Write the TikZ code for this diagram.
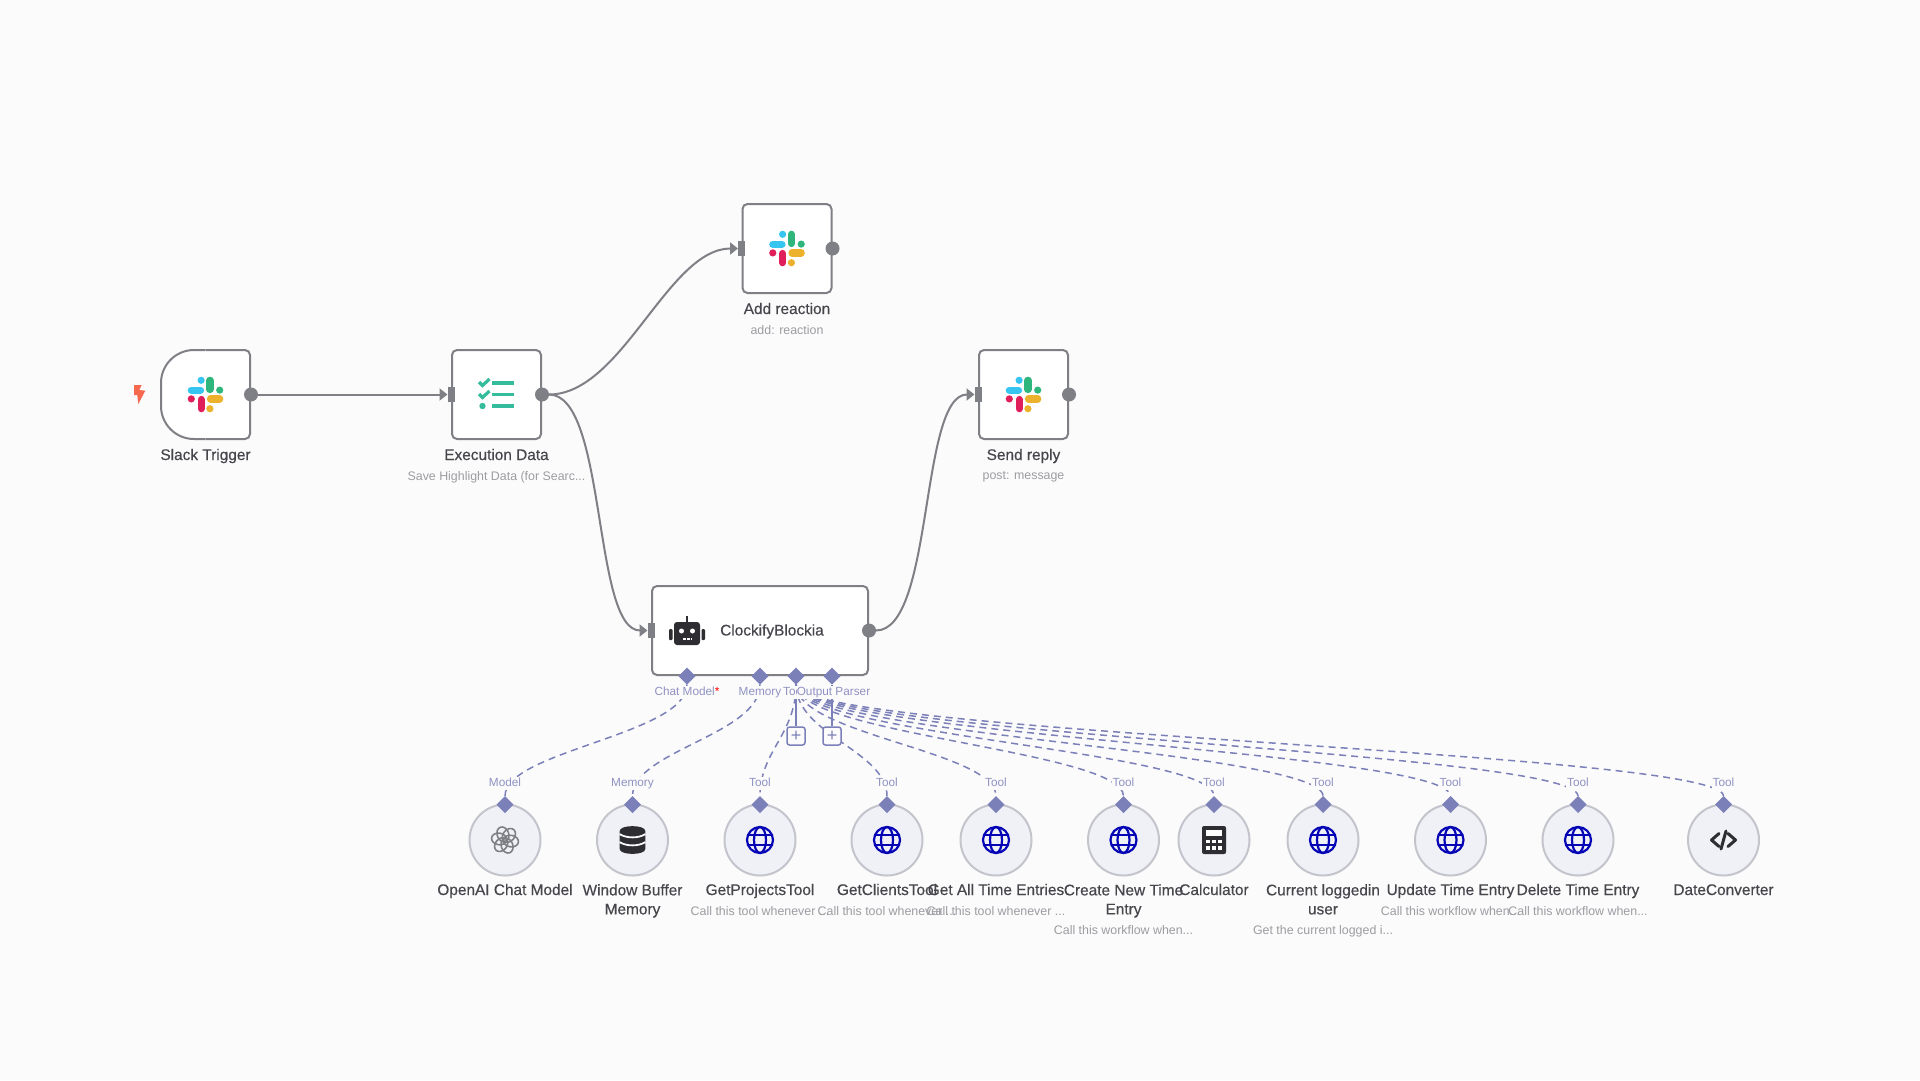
\documentclass[tikz,border=0pt]{standalone}
\usepackage{fontspec}
\usepackage{xcolor}
\setmainfont{Liberation Sans}
\newfontfamily\titlefont[FakeBold=0.35]{Liberation Sans}
\usetikzlibrary{shapes.geometric,arrows.meta,positioning,calc}
\definecolor{pagebg}{HTML}{FBFBFB}
\definecolor{edgegray}{HTML}{7F7F86}
\definecolor{titlegray}{HTML}{46464C}
\definecolor{subgray}{HTML}{9C9CA2}
\definecolor{portpurple}{HTML}{7C80B8}
\definecolor{labelpurple}{HTML}{8F92C2}
\definecolor{toolfill}{HTML}{F0F1F7}
\definecolor{toolline}{HTML}{C4C4CC}
\definecolor{globeblue}{HTML}{0505B5}
\definecolor{iconblack}{HTML}{2D2D32}
\definecolor{checkteal}{HTML}{34BC9C}
\tikzset{
  mainbox/.style={draw=edgegray,line width=2pt,fill=white,rounded corners=5pt,minimum width=89pt,minimum height=89pt,outer sep=0pt},
  outdot/.style={circle,fill=edgegray,minimum size=14pt,inner sep=0pt,outer sep=0pt},
  inport/.style={rectangle,fill=edgegray,minimum width=7pt,minimum height=15pt,inner sep=0pt,outer sep=0pt},
  flow/.style={draw=edgegray,line width=2pt},
  flowarrow/.style={flow,-{Triangle[length=8pt,width=12pt]}},
  toolcircle/.style={circle,draw=toolline,line width=2pt,fill=toolfill,minimum size=71pt,inner sep=0pt,outer sep=0pt},
  portdiamond/.style={diamond,fill=portpurple,minimum width=17pt,minimum height=17pt,inner sep=0pt,outer sep=0pt},
  dashline/.style={draw=portpurple,line width=1.5pt,dash pattern=on 7pt off 5pt},
  stubline/.style={draw=portpurple,line width=1.5pt},
  plusbox/.style={draw=portpurple,line width=1.5pt,fill=pagebg,rounded corners=2.5pt,minimum size=18pt,inner sep=0pt,text=portpurple,font=\fontsize{18}{18}\selectfont},
  portlabel/.style={fill=pagebg,inner sep=1pt,text height=8.5pt,text depth=2.5pt,text=labelpurple,font=\fontsize{11.8}{13}\selectfont},
  nodetitle/.style={inner sep=0pt,align=center,text=titlegray,font=\titlefont\fontsize{15.4}{19}\selectfont,execute at begin node=\strut},
  nodesub/.style={inner sep=0pt,text=subgray,font=\fontsize{12.4}{16}\selectfont}
}
\newcommand{\slackicon}[1]{
  \begin{scope}[shift={(#1)},line cap=round,line width=7.2pt]
    \draw[color={rgb,255:red,54;green,197;blue,240}] (-14.2,-4.4) -- (-5,-4.4);
    \fill[color={rgb,255:red,54;green,197;blue,240}] (-4.4,-14.2) circle (3.6pt);
    \draw[color={rgb,255:red,46;green,182;blue,125}] (4.4,-14.2) -- (4.4,-5);
    \fill[color={rgb,255:red,46;green,182;blue,125}] (14.2,-4.4) circle (3.6pt);
    \draw[color={rgb,255:red,236;green,178;blue,46}] (14.2,4.4) -- (5,4.4);
    \fill[color={rgb,255:red,236;green,178;blue,46}] (4.4,14.2) circle (3.6pt);
    \draw[color={rgb,255:red,224;green,30;blue,90}] (-4.4,14.2) -- (-4.4,5);
    \fill[color={rgb,255:red,224;green,30;blue,90}] (-14.2,4.4) circle (3.6pt);
  \end{scope}
}
\newcommand{\globeicon}[1]{
  \begin{scope}[shift={(#1)},draw=globeblue,line width=2.2pt]
    \draw (0,0) circle (13pt);
    \draw (0,0) ellipse (6pt and 13pt);
    \draw (-12,-5) -- (12,-5);
    \draw (-12,5) -- (12,5);
  \end{scope}
}
\begin{document}
\begin{tikzpicture}[x=1pt,y=-1pt]
  \useasboundingbox (0,0) rectangle (1920,1080);
  \fill[pagebg] (0,0) rectangle (1920,1080);

  % main row
  \node[mainbox,draw=none,fill=none] (trigger) at (205.5,394.5) {};
  \filldraw[draw=edgegray,line width=2pt,fill=white,rounded corners=33pt] (trigger.north) -- (trigger.north west) -- (trigger.south west) -- (trigger.south);
  \filldraw[draw=edgegray,line width=2pt,fill=white,rounded corners=5pt] (trigger.south) -- (trigger.south east) -- (trigger.north east) -- (trigger.north);
  \node[mainbox] (execdata) at (496.5,394.5) {};
  \node[mainbox] (reaction) at (787,248.5) {};
  \node[mainbox] (reply) at (1023.5,394.5) {};
  \node[mainbox,minimum width=216pt] (agent) at (760,630.5) {};
  \fill[color={rgb,255:red,247;green,105;blue,79}] (134,385) -- (141.7,385) -- (139.3,390) -- (145.3,390.7) -- (138.3,404) -- (137.3,395) -- (134,395) -- cycle;

  \node[outdot] (trigger out) at ([xshift=1pt]trigger.east) {};
  \node[outdot] (execdata out) at ([xshift=1pt]execdata.east) {};
  \node[outdot] (reaction out) at ([xshift=1pt]reaction.east) {};
  \node[outdot] (reply out) at ([xshift=1pt]reply.east) {};
  \node[outdot] (agent out) at ([xshift=1pt]agent.east) {};
  \node[inport] (execdata in) at ([xshift=-1pt]execdata.west) {};
  \node[inport] (reaction in) at ([xshift=-1pt]reaction.west) {};
  \node[inport] (reply in) at ([xshift=-1pt]reply.west) {};
  \node[inport] (agent in) at ([xshift=-1pt]agent.west) {};

  \draw[flowarrow] (trigger out) -- (execdata in.west);
  \draw[flowarrow] (execdata out) .. controls +(80,0) and +(-70,0) .. (reaction in.west);
  \draw[flowarrow] (execdata out) .. controls +(65,0) and +(-55,0) .. (agent in.west);
  \draw[flowarrow] (agent out) .. controls +(65,0) and +(-55,0) .. (reply in.west);

  % icons
  \slackicon{trigger.center}
  \slackicon{reaction.center}
  \slackicon{reply.center}
  \begin{scope}[shift={(execdata.center)},color=checkteal]
    \fill (-4.2,-13.5) rectangle (17.8,-10);
    \fill (-4.2,-1.7) rectangle (17.8,1.8);
    \fill (-4.2,9.8) rectangle (17.8,13.3);
    \draw[line width=3.2pt] (-17.5,-12.5) -- (-14,-9) -- (-7,-15.5);
    \draw[line width=3.2pt] (-17.5,-0.5) -- (-14,3) -- (-7,-3.5);
    \fill (-14,11.5) circle (3.2pt);
  \end{scope}
  \begin{scope}[shift={(687,631)}]
    \fill[iconblack,rounded corners=3pt] (-13,-9) rectangle (13,14);
    \fill[iconblack,rounded corners=1pt] (-18,-2) rectangle (-14.5,9);
    \fill[iconblack,rounded corners=1pt] (14.5,-2) rectangle (18,9);
    \fill[iconblack] (-1,-15) rectangle (1,-9);
    \fill[white] (-5.5,0) circle (2.5pt);
    \fill[white] (5.5,0) circle (2.5pt);
    \draw[white,line width=1.5pt,dash pattern=on 2.5pt off 1.5pt] (-4,8) -- (4.5,8);
  \end{scope}
  \node[anchor=west,inner sep=0pt,text=titlegray,font=\titlefont\fontsize{15.4}{19}\selectfont] (agent name) at (720,631.5) {ClockifyBlockia};

  % agent ports
  \node[portdiamond] (model port) at (687,676) {};
  \node[portdiamond] (memory port) at (760,676) {};
  \node[portdiamond] (tool port) at (796,676) {};
  \node[portdiamond] (parser port) at (832,676) {};

  % sub nodes
  \node[toolcircle] (openai) at (505,840) {};
  \node[toolcircle] (memory) at (632.5,840) {};
  \node[toolcircle] (projects) at (760,840) {};
  \node[toolcircle] (clients) at (887,840) {};
  \node[toolcircle] (entries) at (996,840) {};
  \node[toolcircle] (create) at (1123.5,840) {};
  \node[toolcircle] (calc) at (1214,840) {};
  \node[toolcircle] (current) at (1323,840) {};
  \node[toolcircle] (update) at (1450.5,840) {};
  \node[toolcircle] (delete) at (1578,840) {};
  \node[toolcircle] (dateconv) at (1723.5,840) {};

  \node[portdiamond] (openai top) at (openai.north) {};
  \node[portdiamond] (memory top) at (memory.north) {};
  \node[portdiamond] (projects top) at (projects.north) {};
  \node[portdiamond] (clients top) at (clients.north) {};
  \node[portdiamond] (entries top) at (entries.north) {};
  \node[portdiamond] (create top) at (create.north) {};
  \node[portdiamond] (calc top) at (calc.north) {};
  \node[portdiamond] (current top) at (current.north) {};
  \node[portdiamond] (update top) at (update.north) {};
  \node[portdiamond] (delete top) at (delete.north) {};
  \node[portdiamond] (dateconv top) at (dateconv.north) {};

  % dashed links
  \draw[dashline] (model port.south) .. controls +(0,50) and +(0,-45) .. (openai top.north);
  \draw[dashline] (memory port.south) .. controls +(0,50) and +(0,-45) .. (memory top.north);
  \draw[dashline] (tool port.south) .. controls +(0,50) and +(0,-45) .. (projects top.north);
  \draw[dashline] (tool port.south) .. controls +(0,50) and +(0,-45) .. (clients top.north);
  \draw[dashline] (tool port.south) .. controls +(0,50) and +(0,-45) .. (entries top.north);
  \draw[dashline] (tool port.south) .. controls +(0,50) and +(0,-45) .. (create top.north);
  \draw[dashline] (tool port.south) .. controls +(0,50) and +(0,-45) .. (calc top.north);
  \draw[dashline] (tool port.south) .. controls +(0,50) and +(0,-45) .. (current top.north);
  \draw[dashline] (tool port.south) .. controls +(0,50) and +(0,-45) .. (update top.north);
  \draw[dashline] (tool port.south) .. controls +(0,50) and +(0,-45) .. (delete top.north);
  \draw[dashline] (tool port.south) .. controls +(0,50) and +(0,-45) .. (dateconv top.north);
  \node[plusbox] (add tool) at (796,736) {+};
  \node[plusbox] (add parser) at (832,736) {+};
  \draw[stubline] (tool port.south) -- (add tool.north);
  \draw[stubline] (parser port.south) -- (add parser.north);

  % port labels
  \node[portlabel] (model label) at (687,692) {Chat Model{\color{red}*}};
  \node[portlabel] (memory label) at (760,692) {Memory};
  \node[portlabel] (tool label) at (794,692) {Tool};
  \node[portlabel,inner xsep=0pt] (parser label) at (833.5,692) {Output Parser};
  \node[portlabel] at (505,783) {Model};
  \node[portlabel] at (632.5,783) {Memory};
  \node[portlabel] at (760,783) {Tool};
  \node[portlabel] at (887,783) {Tool};
  \node[portlabel] at (996,783) {Tool};
  \node[portlabel] at (1123.5,783) {Tool};
  \node[portlabel] at (1214,783) {Tool};
  \node[portlabel] at (1323,783) {Tool};
  \node[portlabel] at (1450.5,783) {Tool};
  \node[portlabel] at (1578,783) {Tool};
  \node[portlabel] at (1723.5,783) {Tool};

  % tool icons
  \globeicon{projects.center}
  \globeicon{clients.center}
  \globeicon{entries.center}
  \globeicon{create.center}
  \globeicon{current.center}
  \globeicon{update.center}
  \globeicon{delete.center}
  \begin{scope}[shift={(openai.center)},draw=edgegray,line width=1.6pt]
    \draw[rotate=20] (0,-6) ellipse (5.8pt and 7.6pt);
    \draw[rotate=80] (0,-6) ellipse (5.8pt and 7.6pt);
    \draw[rotate=140] (0,-6) ellipse (5.8pt and 7.6pt);
    \draw[rotate=200] (0,-6) ellipse (5.8pt and 7.6pt);
    \draw[rotate=260] (0,-6) ellipse (5.8pt and 7.6pt);
    \draw[rotate=320] (0,-6) ellipse (5.8pt and 7.6pt);
  \end{scope}
  \begin{scope}[shift={(memory.center)}]
    \fill[iconblack] (-12.8,-9) -- (-12.8,9) .. controls (-12.8,15.5) and (12.8,15.5) .. (12.8,9) -- (12.8,-9) .. controls (12.8,-15.5) and (-12.8,-15.5) .. (-12.8,-9) -- cycle;
    \draw[pagebg,line width=1.8pt] (-13,-6) .. controls (-6,-1.5) and (6,-1.5) .. (13,-6);
    \draw[pagebg,line width=1.8pt] (-13,2) .. controls (-6,6.5) and (6,6.5) .. (13,2);
  \end{scope}
  \begin{scope}[shift={(calc.center)}]
    \fill[iconblack,rounded corners=2pt] (-12,-14) rectangle (12,14);
    \fill[white] (-8,-10) rectangle (8,-4);
    \fill[white] (-8,0) rectangle (-4.5,3);
    \fill[white] (-2,0) rectangle (1.5,3);
    \fill[white] (4,0) rectangle (8,3);
    \fill[white] (-8,6) rectangle (-4.5,9.5);
    \fill[white] (-2,6) rectangle (1.5,9.5);
    \fill[white] (4,6) rectangle (8,10);
  \end{scope}
  \begin{scope}[shift={(dateconv.center)},draw=iconblack,line width=3pt,line cap=round,line join=round]
    \draw (-4.5,-6.5) -- (-12,0) -- (-4.5,6.5);
    \draw (4.5,-6.5) -- (12,0) -- (4.5,6.5);
    \draw (2.5,-9) -- (-2.5,9);
  \end{scope}

  % titles
  \node[nodetitle,below=7.5pt of trigger] (trigger title) {Slack Trigger};
  \node[nodetitle,below=7.5pt of execdata] (execdata title) {Execution Data};
  \node[nodesub,below=5pt of execdata title] {Save Highlight Data (for Searc...};
  \node[nodetitle,below=7.5pt of reaction] (reaction title) {Add reaction};
  \node[nodesub,below=5pt of reaction title] {add: reaction};
  \node[nodetitle,below=7.5pt of reply] (reply title) {Send reply};
  \node[nodesub,below=5pt of reply title] {post: message};

  \node[nodetitle,below=6pt of openai] {OpenAI Chat Model};
  \node[nodetitle,below=8.5pt of memory] {Window Buffer\\Memory};
  \node[nodetitle,below=6pt of projects] (projects title) {GetProjectsTool};
  \node[nodesub,below=5.5pt of projects title] {Call this tool whenever ...};
  \node[nodetitle,below=6pt of clients] (clients title) {GetClientsTool};
  \node[nodesub,below=5.5pt of clients title] {Call this tool whenever ...};
  \node[nodetitle,below=6pt of entries] (entries title) {Get All Time Entries};
  \node[nodesub,below=5.5pt of entries title] {Call this tool whenever ...};
  \node[nodetitle,below=8.5pt of create] (create title) {Create New Time\\Entry};
  \node[nodesub,anchor=north] at ($(create.south)+(0,49.5)$) {Call this workflow when...};
  \node[nodetitle,below=6pt of calc] {Calculator};
  \node[nodetitle,below=8.5pt of current] (current title) {Current loggedin\\user};
  \node[nodesub,anchor=north] at ($(current.south)+(0,49.5)$) {Get the current logged i...};
  \node[nodetitle,below=6pt of update] (update title) {Update Time Entry};
  \node[nodesub,below=5.5pt of update title] {Call this workflow when...};
  \node[nodetitle,below=6pt of delete] (delete title) {Delete Time Entry};
  \node[nodesub,below=5.5pt of delete title] {Call this workflow when...};
  \node[nodetitle,below=6pt of dateconv] {DateConverter};
\end{tikzpicture}
\end{document}
